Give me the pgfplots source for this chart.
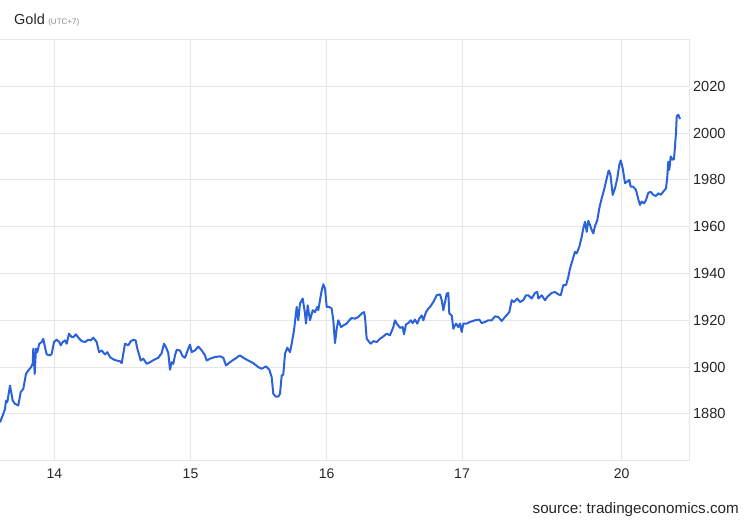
\documentclass[border=0pt]{standalone}
\usepackage{fontspec}
\setmainfont{Liberation Sans}
\usepackage{pgfplots}
\pgfplotsset{compat=1.18}
\definecolor{goldline}{HTML}{2A62DA}
\definecolor{gridgray}{HTML}{E6E6E6}
\definecolor{txt}{HTML}{262626}
\definecolor{subtxt}{HTML}{8A8A8A}
\frenchspacing

\begin{document}
\begin{tikzpicture}[x=1pt,y=1pt]
\begin{axis}[
  at={(0pt,0pt)}, anchor=south west,
  scale only axis, width=689pt, height=421.2pt,
  xmin=0, xmax=689, ymin=1860, ymax=2040,
  axis x line=box, axis y line=right,
  axis line style={-, gridgray, line width=1pt},
  xtick={54.5,190.5,326.7,462,621.7},
  xticklabels={14,15,16,17,20},
  ytick={1880,1900,...,2020},
  major tick length=0pt,
  grid=major, grid style={gridgray, line width=1pt},
  tick label style={font=\fontsize{14}{16}\selectfont, text=txt},
  xticklabel style={yshift=-4.5pt},
  yticklabel style={xshift=0.5pt, font=\fontsize{14.6}{16}\selectfont},
  /pgf/number format/assume math mode=true,
  /pgf/number format/1000 sep={},
]
% Gold intraday price (x = time index)
\addplot[goldline, line width=2pt, line join=round] coordinates {
(0,1876.4) (2.7,1879.3) (5,1882.1) (6,1885.7) (7.3,1885.0) (10,1892.1) (12.7,1885.7)
(15,1884.3) (18.3,1883.6) (20.7,1889.3) (23.3,1890.7) (26,1897.1) (28.3,1898.6)
(30.7,1899.7) (32.7,1901.4) (33.3,1907.9) (34.7,1897.1) (36,1907.9) (37.3,1906.4)
(39.3,1910.0) (41.7,1910.7) (43.3,1912.1) (45,1908.5) (46.7,1905.4) (50,1905.0)
(51.7,1905.7) (54,1910.7) (56.7,1911.7) (59.3,1910.7) (60.7,1909.3) (62.7,1910.7)
(65,1911.4) (66.7,1910.0) (69,1914.3) (71.7,1912.8) (73.3,1912.8) (76,1914.0)
(78.3,1912.6) (81.7,1911.1) (85,1910.7) (88.3,1911.7) (90.7,1911.4) (93.3,1912.6)
(96.7,1910.7) (99,1906.4) (101.7,1907.1) (105,1905.4) (107.3,1906.4) (110,1904.3)
(113.3,1903.3) (116.7,1902.8) (120,1902.5) (121.7,1901.7) (125,1910.0) (128.3,1909.3)
(130.7,1911.0) (133.3,1911.7) (135.7,1911.4) (137.3,1907.9) (139.3,1905.0) (140.7,1902.8)
(143.3,1903.6) (146.7,1901.4) (150,1902.1) (154,1903.1) (158.3,1904.0) (161.7,1906.0)
(164,1910.0) (166,1908.5) (168.3,1906.0) (170,1898.9) (171.7,1902.1) (173.3,1901.4)
(175,1905.0) (176.7,1907.4) (180,1907.1) (182.7,1904.6) (185,1904.0) (188.3,1907.9)
(190,1909.6) (191.7,1906.4) (195,1907.1) (198.3,1908.8) (201.7,1907.1) (205,1905.0)
(206.7,1902.8) (210,1903.6) (215,1904.3) (220,1904.6) (223.3,1904.0) (226,1900.7)
(230,1902.1) (233.3,1903.1) (236.7,1904.0) (238.3,1904.6) (240,1905.0) (243.3,1904.0)
(248.3,1902.8) (253.3,1901.7) (258.3,1900.0) (261.7,1899.3) (266,1900.3) (269.3,1898.9)
(271.7,1895.7) (273.3,1888.6) (275.7,1887.4) (278.3,1887.4) (280,1888.6) (281.7,1896.4)
(283.3,1896.8) (285,1905.7) (287.3,1908.3) (290,1906.4) (291.7,1910.0) (294,1915.7)
(296.7,1925.7) (298.3,1920.0) (300,1927.1) (302.7,1929.3) (305,1922.9) (306,1918.6)
(307.7,1926.4) (310,1920.0) (312.7,1924.3) (315,1923.5) (317.3,1925.7) (318.3,1924.3)
(320,1928.6) (321.7,1932.8) (323.3,1935.4) (325,1933.6) (326.7,1925.7) (329.3,1925.7)
(331.7,1925.0) (333.3,1920.0) (335,1910.3) (336.7,1916.4) (338.3,1920.0) (341,1917.1)
(343.3,1917.8) (346.7,1918.6) (349.3,1920.0) (351.7,1921.0) (355,1920.7) (358.3,1921.4)
(361.7,1922.9) (364,1923.5) (365,1921.4) (366.7,1912.1) (369.3,1910.7) (370.7,1910.0)
(373.3,1911.1) (376.7,1910.7) (380,1912.1) (383.3,1913.1) (386.7,1914.3) (390,1913.6)
(393.3,1917.1) (395,1920.0) (396.7,1918.6) (400,1916.8) (402.7,1917.1) (404,1914.0)
(406,1918.3) (408.3,1918.8) (410.7,1920.0) (412.7,1918.8) (415,1920.3) (417.3,1918.6)
(419.3,1920.7) (421.7,1922.1) (423.3,1920.0) (426,1923.5) (428.3,1925.0) (430,1925.7)
(433.3,1927.8) (436.7,1930.7) (440,1931.1) (441.7,1928.6) (443.3,1924.3) (445,1927.8)
(446.7,1931.4) (448.3,1931.7) (449.3,1922.9) (451.7,1922.1) (453.3,1916.4) (456,1918.6)
(458.3,1917.1) (460,1918.6) (461.7,1915.0) (463.3,1918.6) (466.7,1918.6) (470,1919.3)
(475,1920.0) (479.3,1920.3) (481.7,1918.8) (485,1919.3) (488.3,1920.0) (491.7,1920.0)
(495,1921.7) (498.3,1921.4) (501.7,1919.7) (505,1921.4) (509.3,1923.5) (511.7,1928.6)
(514,1927.8) (517.3,1929.3) (520,1927.8) (523.3,1928.6) (526,1930.7) (528.3,1930.7)
(531.7,1929.3) (535,1931.7) (537.3,1932.1) (538.3,1929.3) (541.7,1930.7) (545,1928.6)
(547.3,1930.0) (551.7,1931.7) (555,1932.1) (558.3,1931.1) (560.7,1930.7) (563.3,1935.0)
(566,1935.0) (568.3,1938.5) (570,1942.1) (572.7,1946.0) (575,1949.3) (576.7,1948.6)
(579.3,1951.4) (581.7,1955.7) (583.3,1959.3) (585,1962.1) (586.7,1957.8) (588.3,1962.5)
(590,1960.7) (591.7,1958.6) (593.3,1957.1) (595,1960.3) (597.3,1962.8) (599.3,1967.9)
(601.7,1972.1) (604,1975.7) (606,1979.3) (608.3,1983.5) (609,1984.0) (610.5,1982.0)
(612.7,1973.6) (615,1976.4) (617.3,1980.7) (619.3,1986.4) (620.7,1988.3) (622.7,1985.0)
(625,1978.6) (627.3,1979.3) (629.3,1980.0) (630.7,1977.1) (633.3,1977.1) (636,1975.7)
(638.3,1971.7) (640,1969.3) (641.7,1970.7) (644,1970.0) (646,1971.4) (648.3,1974.5)
(650.7,1974.9) (653.3,1973.6) (656,1973.1) (658.3,1974.3) (660.7,1973.6) (663.3,1975.0)
(666,1976.4) (667.3,1981.4) (668.3,1987.8) (669.3,1984.3) (670.7,1990.0) (672.7,1988.6)
(674,1988.9) (676,2000.0) (676.7,2007.1) (678.3,2007.9) (680,2006.0)
};
\end{axis}
\node[anchor=base west, inner sep=0pt, text=txt, font=\fontsize{14.5}{16}\selectfont]
  at (14,435.7) {Gold\hspace{3.5pt}{\fontsize{8}{9}\selectfont\color{subtxt}(UTC+7)}};
\node[anchor=base east, inner sep=0pt, text=txt, font=\fontsize{15.2}{17}\selectfont]
  at (739,-52.6) {source: tradingeconomics.com};
\pgfresetboundingbox
\path[use as bounding box] (0,-59.3) rectangle (750,460.7);
\end{tikzpicture}
\end{document}
